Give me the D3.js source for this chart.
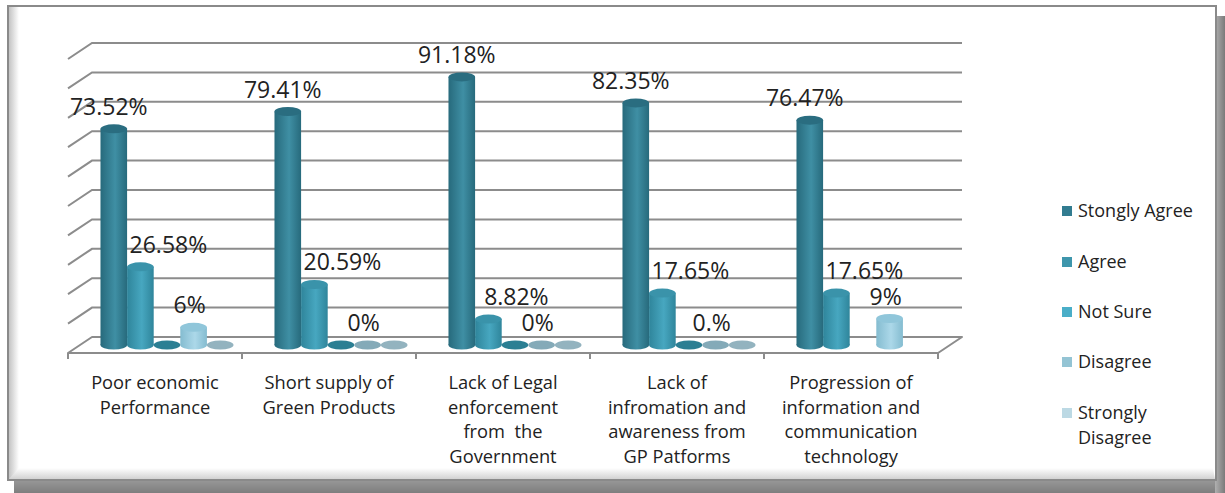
<!DOCTYPE html>
<html>
<head>
<meta charset="utf-8">
<script src="https://cdn.jsdelivr.net/npm/d3@7"></script>
<style>
  html, body { margin: 0; padding: 0; background: #fff; }
  svg { display: block; font-family: "Open Sans", "Noto Sans", sans-serif; }
</style>
</head>
<body>
<div id="chart"></div>
<script>
// categories (tick labels, already split into lines as in the original)
const categories = [
  ["Poor economic", "Performance"],
  ["Short supply of", "Green Products"],
  ["Lack of Legal", "enforcement", "from  the", "Government"],
  ["Lack of", "infromation and", "awareness from", "GP Patforms"],
  ["Progression of", "information and", "communication", "technology"]
];

const seriesNames = ["Stongly Agree", "Agree", "Not Sure", "Disagree", "Strongly Disagree"];

// values per series (null = no bar drawn)
const stronglyAgree = [73.52, 79.41, 91.18, 82.35, 76.47];
const agree = [26.58, 20.59, 8.82, 17.65, 17.65];
const notSure = [0, 0, 0, 0, null];
const disagree = [6, 0, 0, 0, 9];
const stronglyDisagree = [0, 0, 0, 0, null];

// data labels as printed on the chart (null = no label)
const stronglyAgreeLabels = ["73.52%", "79.41%", "91.18%", "82.35%", "76.47%"];
const agreeLabels = ["26.58%", "20.59%", "8.82%", "17.65%", "17.65%"];
const disagreeLabels = ["6%", "0%", "0%", "0.%", "9%"];

const yTicks = [0, 10, 20, 30, 40, 50, 60, 70, 80, 90, 100];

const seriesValues = [stronglyAgree, agree, notSure, disagree, stronglyDisagree];
const seriesLabels = [stronglyAgreeLabels, agreeLabels, null, disagreeLabels, null];

// styles
const legendColors = ["#327c90", "#3e96ac", "#4aaec8", "#94c4d4", "#bcd9e4"];
const barStyles = [
  { dark: "#276a7c", light: "#3f8fa4", top: "#2a6d80", flat: "#2a6d80" },
  { dark: "#2f859b", light: "#47a7c0", top: "#3a93aa", flat: "#3a93aa" },
  { dark: "#2a8196", light: "#3a97ad", top: "#2e879c", flat: "#2b7f93" },
  { dark: "#84bcd0", light: "#acd8e9", top: "#90c6da", flat: "#84aab8" },
  { dark: "#86a9b6", light: "#9fbfcb", top: "#90b2bf", flat: "#93b3bf" }
];
const labelDx = [-5, 28, 0, -4, 0];

const W = 1225, H = 493;
const svg = d3.select("#chart").append("svg")
  .attr("width", W).attr("height", H)
  .attr("viewBox", `0 0 ${W} ${H}`);

const defs = svg.append("defs");

function linGrad(id, x1, y1, x2, y2, stops) {
  const g = defs.append("linearGradient").attr("id", id)
    .attr("x1", x1).attr("y1", y1).attr("x2", x2).attr("y2", y2);
  stops.forEach(s => g.append("stop").attr("offset", s[0]).attr("stop-color", s[1]));
}

// frame with bevel + shadow
linGrad("shadowB", 0, 0, 0, 1, [["0%", "#9a9a9a"], ["100%", "#7e7e7e"]]);
linGrad("shadowR", 0, 0, 1, 0, [["0%", "#b0b0b0"], ["100%", "#7a7a7a"]]);
linGrad("bevelL", 0, 0, 1, 0, [["0%", "#c4c4c4"], ["100%", "#ffffff"]]);
linGrad("bevelB", 0, 0, 0, 1, [["0%", "#ffffff"], ["100%", "#d2d2d2"]]);

svg.append("rect").attr("x", 14).attr("y", 479).attr("width", 1211).attr("height", 14).attr("fill", "url(#shadowB)");
svg.append("rect").attr("x", 1215).attr("y", 16).attr("width", 10).attr("height", 477).attr("fill", "url(#shadowR)");
svg.append("rect").attr("x", 8).attr("y", 6).attr("width", 1208).attr("height", 474)
  .attr("fill", "#fff").attr("stroke", "#8a8a8a").attr("stroke-width", 2);
svg.append("rect").attr("x", 9).attr("y", 7).attr("width", 10).attr("height", 472).attr("fill", "url(#bevelL)");
svg.append("path").attr("d", "M19,468 L1213,468 L1215,479 L9,479 Z").attr("fill", "url(#bevelB)");

// scales
const x0 = d3.scaleBand().domain(d3.range(categories.length)).range([68, 938]).paddingInner(0).paddingOuter(0);
const x1 = d3.scaleBand().domain(d3.range(seriesNames.length)).range([0, x0.bandwidth()]).paddingInner(0).paddingOuter(0.77);
const y = d3.scaleLinear().domain([0, 100]).range([353, 59]);

const depthX = 24, depthY = -16;   // front -> back wall
const midX = depthX / 2, midY = depthY / 2;

const plot = svg.append("g");

// floor
const floorY = y(0);
plot.append("path")
  .attr("d", `M${x0.range()[0]},${floorY} L${x0.range()[0] + depthX},${floorY + depthY} L${x0.range()[1] + depthX},${floorY + depthY} L${x0.range()[1]},${floorY} Z`)
  .attr("fill", "#fff").attr("stroke", "#8c8c8c").attr("stroke-width", 2).attr("stroke-linejoin", "round");

// gridlines (side wall diagonal + back wall)
yTicks.forEach(t => {
  if (t === 0) return;
  const yy = y(t);
  plot.append("path")
    .attr("d", `M${x0.range()[0]},${yy} L${x0.range()[0] + depthX},${yy + depthY} L${x0.range()[1] + depthX},${yy + depthY}`)
    .attr("fill", "none").attr("stroke", "#8c8c8c").attr("stroke-width", 2);
});

// category ticks on front edge
const tickXs = d3.range(categories.length + 1).map(i => i < categories.length ? x0(i) : x0.range()[1]);
tickXs.forEach(tx => {
  plot.append("line").attr("x1", tx).attr("x2", tx).attr("y1", floorY).attr("y2", floorY + 6)
    .attr("stroke", "#8c8c8c").attr("stroke-width", 2);
});

// cylinders
const ry = 4.5;
seriesValues.forEach((vals, si) => {
  const st = barStyles[si];
  const gid = "cyl" + si;
  linGrad(gid, 0, 0, 1, 0, [["0%", st.dark], ["55%", st.light], ["100%", st.dark]]);
  vals.forEach((v, ci) => {
    if (v === null) return;
    const bx = x0(ci) + x1(si) + midX;
    const w = x1.bandwidth();
    const cx = bx + w / 2;
    const yb = y(0) + midY;
    const yt = y(v) + midY;
    const g = plot.append("g");
    if (v === 0) {
      g.append("ellipse").attr("cx", cx).attr("cy", yb).attr("rx", w / 2).attr("ry", ry).attr("fill", st.flat);
      return;
    }
    g.append("ellipse").attr("cx", cx).attr("cy", yb).attr("rx", w / 2).attr("ry", ry).attr("fill", `url(#${gid})`);
    g.append("rect").attr("x", bx).attr("y", yt).attr("width", w).attr("height", yb - yt).attr("fill", `url(#${gid})`);
    g.append("ellipse").attr("cx", cx).attr("cy", yt).attr("rx", w / 2).attr("ry", ry).attr("fill", st.top);
  });
});

// data labels
seriesLabels.forEach((labs, si) => {
  if (!labs) return;
  labs.forEach((txt, ci) => {
    const v = seriesValues[si][ci];
    if (txt === null || v === null) return;
    const cx = x0(ci) + x1(si) + x1.bandwidth() / 2 + midX + labelDx[si];
    plot.append("text")
      .attr("x", cx).attr("y", y(v) + midY - 14)
      .attr("text-anchor", "middle")
      .attr("font-size", 23).attr("fill", "#222")
      .text(txt);
  });
});

// category labels
categories.forEach((lines, ci) => {
  const t = plot.append("text")
    .attr("text-anchor", "middle").attr("font-size", 18.3).attr("fill", "#222")
    .attr("xml:space", "preserve").style("white-space", "pre");
  lines.forEach((ln, li) => {
    t.append("tspan").attr("x", x0(ci) + x0.bandwidth() / 2).attr("y", 389 + li * 24.5).text(ln);
  });
});

// legend
const legendRows = [[["Stongly Agree"], 211], [["Agree"], 262], [["Not Sure"], 312], [["Disagree"], 362], [["Strongly", "Disagree"], 413]];
seriesNames.forEach((name, i) => {
  const ly = legendRows[i][1];
  svg.append("rect").attr("x", 1062).attr("y", ly - 5).attr("width", 10).attr("height", 10).attr("fill", legendColors[i]);
  const t = svg.append("text").attr("font-size", 18).attr("fill", "#222");
  legendRows[i][0].forEach((ln, li) => {
    t.append("tspan").attr("x", 1078).attr("y", ly + 6 + li * 25).text(ln);
  });
});
</script>
</body>
</html>
